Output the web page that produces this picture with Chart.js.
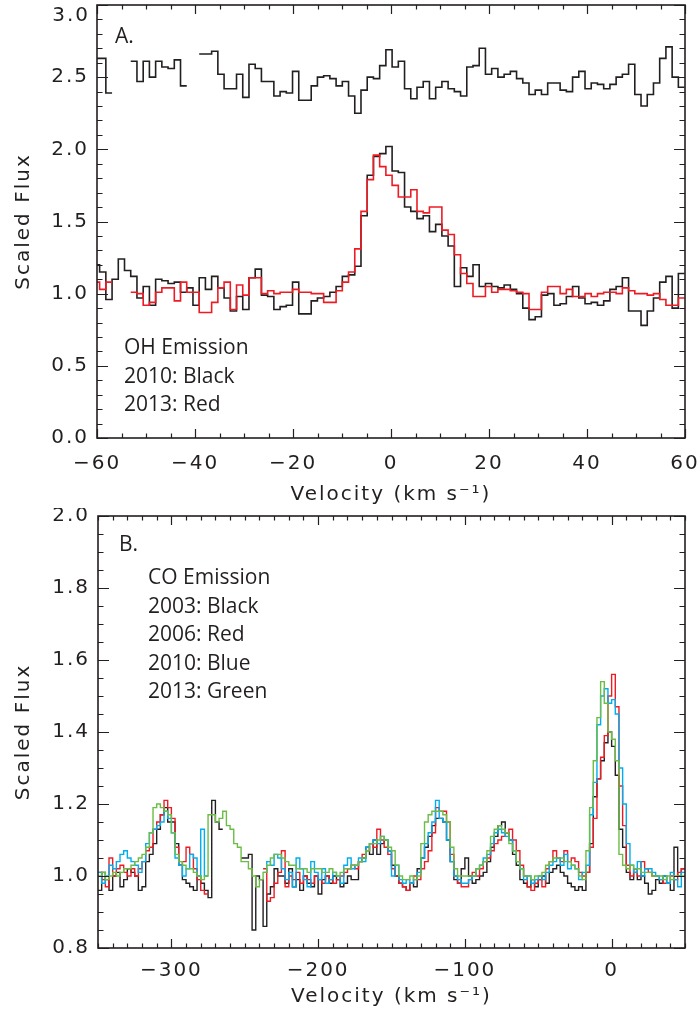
<!DOCTYPE html>
<html>
<head>
<meta charset="utf-8">
<script src="https://cdn.jsdelivr.net/npm/chart.js@4.4.1/dist/chart.umd.min.js"></script>
<style>
html,body{margin:0;padding:0;background:#ffffff;}
#wrap{position:relative;width:698px;height:1022px;overflow:hidden;background:#fff;}
.panel{position:absolute;left:0;width:698px;}
canvas{display:block;}
</style>
</head>
<body>
<div id="wrap">
  <div class="panel" style="top:0px;height:508px"><canvas id="cA" width="698" height="508"></canvas></div>
  <div class="panel" style="top:508px;height:514px"><canvas id="cB" width="698" height="514"></canvas></div>
</div>
<script>
// ================= Panel A : OH emission =================
const ohVelStart = -60.1;   // centre of first velocity bin (km/s)
const ohVelStep = 1.27;     // bin width (km/s)
// upper (offset) spectrum
const ohUpper = [
  2.63, 2.63, 2.39, null, null, null, 2.61, 2.47, 2.61, 2.50,
  2.61, 2.57, 2.56, 2.62, 2.44, null, null, 2.66, 2.66, 2.68,
  2.52, 2.42, 2.42, 2.52, 2.36, 2.59, 2.56, 2.47, 2.47, 2.37,
  2.40, 2.39, 2.54, 2.34, 2.34, 2.44, 2.50, 2.51, 2.49, 2.44,
  2.47, 2.37, 2.25, 2.41, 2.50, 2.49, 2.58, 2.69, 2.57, 2.61,
  2.42, 2.35, 2.43, 2.47, 2.35, 2.43, 2.47, 2.42, 2.40, 2.37,
  2.57, 2.58, 2.70, 2.52, 2.56, 2.50, 2.52, 2.54, 2.49, 2.46,
  2.38, 2.41, 2.38, 2.46, 2.46, 2.41, 2.40, 2.50, 2.54, 2.42,
  2.46, 2.45, 2.42, 2.45, 2.50, 2.52, 2.59, 2.38, 2.30, 2.38,
  2.46, 2.63, 2.71, 2.50, 2.43
];
// 2010 (black)
const oh2010 = [
  1.20, 1.15, 0.96, 1.10, 1.24, 1.16, 1.12, 0.97, 1.05, 0.92,
  1.10, 1.09, 1.07, 1.08, 1.01, 1.04, 0.92, 1.11, 1.03, 1.12,
  1.04, 0.97, 0.88, 0.98, 0.89, 1.11, 1.17, 0.99, 0.98, 0.89,
  0.91, 0.92, 1.08, 0.86, 0.86, 0.95, 0.97, 0.98, 1.01, 1.05,
  1.12, 1.13, 1.19, 1.54, 1.82, 1.95, 1.97, 2.02, 1.85, 1.84,
  1.60, 1.57, 1.52, 1.54, 1.43, 1.48, 1.40, 1.33, 1.05, 1.18,
  1.12, 1.20, 1.05, 1.07, 1.05, 1.04, 1.06, 1.03, 1.00, 0.90,
  0.82, 0.84, 0.99, 1.00, 0.92, 0.93, 0.98, 1.05, 0.97, 0.93,
  0.94, 0.92, 0.95, 1.03, 1.05, 1.11, 0.88, 0.88, 0.78, 0.88,
  0.97, 1.08, 1.12, 0.90, 1.14
];
// 2013 (red)
const oh2013 = [
  1.08, 1.03, 1.08, null, null, null, 1.01, 1.00, 0.92, 0.94,
  1.01, 1.04, 1.04, 0.95, 1.08, 1.01, 1.01, 0.87, 0.87, 0.94,
  1.04, 1.08, 0.89, 1.06, 0.99, 1.11, 1.11, 1.00, 1.02, 1.00,
  1.01, 1.01, 1.03, 1.01, 1.01, 1.00, 1.00, 0.94, 0.94, 1.02,
  1.08, 1.15, 1.31, 1.57, 1.79, 1.96, 1.88, 1.82, 1.75, 1.67,
  1.67, 1.72, 1.57, 1.56, 1.60, 1.60, 1.44, 1.41, 1.27, 1.14,
  1.07, 0.98, 0.98, 1.05, 1.01, 1.03, 1.03, 1.02, 1.01, 1.00,
  0.89, 0.89, 1.01, 1.05, 1.05, 1.00, 1.03, 0.98, 0.98, 1.00,
  0.98, 1.00, 1.01, 1.01, 1.00, 1.04, 1.02, 1.00, 1.00, 0.99,
  1.00, 0.96, 0.92, 0.92, 0.97
];
const ohXTicks = [-60, -40, -20, 0, 20, 40, 60];
const ohYTicks = [0, 0.5, 1.0, 1.5, 2.0, 2.5, 3.0];
const ohNotes = ['OH Emission', '2010: Black', '2013: Red'];

// ================= Panel B : CO emission =================
const coVelStart = -348.75;
const coVelStep = 2.5;
const co2003 = [
  0.96, 1.01, 0.99, 0.96, 1.00, 1.01, 0.97, 0.99, 1.02, 1.01,
  1.00, 0.96, 0.97, 1.04, 1.06, 1.09, 1.13, 1.17, 1.19, 1.15,
  1.15, 1.09, 1.03, 0.99, 0.98, 0.97, 0.96, 1.00, 0.98, 0.96,
  0.94, 1.21, 1.15, 1.13, null, null, null, null, null, 1.05,
  1.05, 1.06, 0.85, 1.00, 0.99, 0.86, 0.95, 0.97, 1.02, 1.00,
  1.00, 0.98, 1.02, 0.97, 0.99, 0.96, 1.00, 0.98, 0.97, 1.00,
  0.95, 0.99, 1.00, 0.98, 1.00, 0.99, 0.97, 0.98, 1.00, 0.99,
  0.99, 1.04, 1.05, 1.08, 1.06, 1.10, 1.06, 1.09, 1.10, 1.07,
  1.03, 1.00, 0.98, 0.97, 0.96, 0.98, 0.97, 1.02, 1.05, 1.08,
  1.11, 1.14, 1.16, 1.16, 1.15, 1.10, 1.04, 0.99, 0.98, 1.02,
  1.05, 1.00, 0.98, 0.99, 1.00, 1.01, 1.04, 1.08, 1.11, 1.14,
  1.15, 1.12, 1.10, 1.06, 1.03, 0.99, 0.98, 0.97, 0.99, 0.97,
  0.99, 1.00, 0.98, 1.01, 1.02, 1.03, 1.01, 1.00, 0.98, 0.97,
  0.96, 0.97, 0.96, 1.01, 1.09, 1.22, 1.27, 1.32, 1.37, 1.40,
  1.36, 1.28, 1.13, 1.08, 1.01, 0.99, 1.02, 0.99, 1.00, 0.98,
  0.95, 0.96, 0.99, 0.98, 1.00, 0.98, 0.96, 1.08, 1.00, 1.02
];
const co2006 = [
  1.01, 0.99, 0.97, 1.05, 1.00, 1.02, 1.03, 1.01, 1.00, 1.02,
  1.00, 1.02, 1.04, 1.07, 1.08, 1.13, 1.15, 1.17, 1.21, 1.19,
  1.16, 1.08, 1.03, 1.04, 1.08, 1.06, 1.02, 0.99, 0.96, 0.95,
  null, null, null, null, null, null, null, null, null, null,
  null, null, null, null, null, 1.02, 0.93, 0.94, 0.98, 1.01,
  1.07, 0.97, 1.00, 0.99, 1.01, 0.98, 1.00, 0.99, 0.98, 1.00,
  0.99, 0.98, 1.00, 0.99, 0.98, 0.99, 1.00, 1.01, 1.02, 1.03,
  1.02, 1.04, 1.06, 1.07, 1.09, 1.08, 1.13, 1.10, 1.08, 1.06,
  1.02, 1.00, 0.98, 0.97, 0.96, 0.98, 1.00, 0.99, 1.02, 1.04,
  1.07, 1.12, 1.19, 1.18, 1.18, 1.15, 1.06, 1.00, 0.98, 0.97,
  0.97, 0.99, 1.01, 1.00, 1.02, 1.04, 1.05, 1.07, 1.09, 1.10,
  1.11, 1.12, 1.13, 1.10, 1.07, 1.03, 1.00, 0.97, 0.96, 0.98,
  0.99, 0.97, 1.02, 1.04, 1.07, 1.05, 1.04, 1.07, 1.04, 1.05,
  1.04, 1.01, 1.00, 1.01, 1.08, 1.16, 1.27, 1.33, 1.39, 1.50,
  1.56, 1.47, 1.25, 1.14, 1.03, 1.00, 1.01, 1.00, 1.04, 1.02,
  1.01, 1.00, 1.00, 0.99, 0.98, 0.98, 1.00, 0.99, 1.01, 1.02
];
const co2010 = [
  1.01, 0.98, 1.00, 1.03, 1.02, 1.04, 1.06, 1.07, 1.05, 1.04,
  1.03, 1.01, 1.04, 1.09, 1.12, 1.13, 1.14, 1.15, 1.18, 1.16,
  1.12, 1.05, 1.03, 1.00, 1.02, 1.06, 1.05, 1.00, 1.13, 1.00,
  null, null, null, null, null, null, null, null, null, null,
  null, null, null, null, null, 1.01, 1.04, 1.03, 1.06, 1.05,
  1.02, 0.99, 1.01, 0.97, 1.05, 1.02, 0.99, 0.97, 1.04, 1.01,
  0.99, 1.02, 0.98, 0.99, 1.01, 1.00, 0.98, 1.03, 1.05, 1.02,
  1.03, 1.05, 1.04, 1.08, 1.09, 1.10, 1.09, 1.11, 1.10, 1.07,
  1.00, 1.03, 0.99, 0.98, 0.99, 0.98, 0.99, 1.01, 1.05, 1.09,
  1.12, 1.15, 1.21, 1.16, 1.15, 1.10, 1.04, 1.00, 0.99, 0.98,
  0.98, 0.99, 1.00, 1.02, 1.03, 1.05, 1.06, 1.09, 1.12, 1.13,
  1.12, 1.11, 1.10, 1.07, 1.04, 1.02, 0.99, 1.00, 0.98, 0.99,
  1.00, 0.99, 1.01, 1.03, 1.04, 1.05, 1.03, 1.06, 1.02, 1.03,
  1.02, 0.99, 1.01, 1.03, 1.17, 1.26, 1.42, 1.50, 1.52, 1.48,
  1.49, 1.45, 1.30, 1.20, 1.09, 1.03, 1.01, 1.04, 1.00, 1.02,
  1.02, 1.01, 1.00, 0.99, 1.00, 0.98, 1.01, 0.99, 0.97, 1.01
];
const co2013 = [
  1.00, 1.01, 0.99, 1.00, 1.01, 1.00, 1.01, 1.02, 1.02, 1.03,
  1.04, 1.05, 1.06, 1.08, 1.12, 1.19, 1.20, 1.19, 1.18, 1.17,
  1.12, 1.06, 1.04, 1.03, 1.02, 1.02, 1.01, 1.00, 0.99, 1.00,
  1.17, 1.17, 1.15, 1.16, 1.18, 1.14, 1.13, 1.09, 1.08, 1.04,
  1.04, 1.02, 1.00, 0.97, 0.99, 1.01, 1.03, 1.05, 1.06, 1.06,
  1.05, 1.04, 1.03, 1.03, 1.02, 1.02, 1.02, 1.01, 1.02, 1.02,
  1.02, 1.01, 1.01, 1.02, 1.01, 1.00, 1.01, 1.02, 1.02, 1.03,
  1.03, 1.04, 1.05, 1.07, 1.09, 1.09, 1.10, 1.11, 1.10, 1.08,
  1.07, 1.03, 1.00, 0.99, 0.99, 1.00, 0.99, 1.00, 1.09, 1.15,
  1.17, 1.18, 1.18, 1.18, 1.17, 1.15, 1.08, 1.02, 1.00, 1.00,
  1.00, 1.00, 1.00, 1.02, 1.03, 1.04, 1.07, 1.11, 1.13, 1.14,
  1.13, 1.12, 1.09, 1.07, 1.04, 1.02, 1.00, 1.00, 0.99, 1.00,
  1.00, 1.01, 1.03, 1.04, 1.05, 1.05, 1.05, 1.04, 1.04, 1.03,
  1.02, 1.00, 0.99, 1.07, 1.19, 1.32, 1.44, 1.54, 1.48, 1.40,
  1.38, 1.32, 1.06, 1.03, 1.02, 1.03, 1.02, 1.02, 1.01, 1.01,
  1.01, 1.00, 1.00, 1.00, 0.99, 1.00, 0.99, 1.00, 1.00, 1.00
];
const coXTicks = [-300, -200, -100, 0];
const coYTicks = [0.8, 1.0, 1.2, 1.4, 1.6, 1.8, 2.0];
const coNotes = ['CO Emission', '2003: Black', '2006: Red', '2010: Blue', '2013: Green'];

// ================= helpers =================
const INK = '#231f20';
const TICK_FONT = {family: "'DejaVu Sans', sans-serif", size: 20, weight: 'normal'};
const NOTE_FONT = "21px 'Open Sans', 'Noto Sans', sans-serif";

// histogram outline: each bin spans centre +/- step/2
function histPoints(start, step, vals) {
  const pts = [];
  vals.forEach((v, i) => {
    const c = start + step * i;
    if (v === null) { pts.push({x: c, y: null}); }
    else { pts.push({x: c - step / 2, y: v}); pts.push({x: c + step / 2, y: v}); }
  });
  return pts;
}
function range(a, b, s) { const out = []; const n = Math.round((b - a) / s); for (let i = 0; i <= n; i++) out.push(+(a + i * s).toFixed(4)); return out; }
const fmtSigned = v => (v < 0 ? '\u2212' + Math.abs(v) : String(v));

// frame + inward ticks on all four sides
const frameTicks = {
  id: 'frameTicks',
  beforeDraw(chart) { chart.ctx.letterSpacing = '2px'; },
  afterDatasetsDraw(chart, args, o) {
    const {ctx, chartArea: a, scales: {x, y}} = chart;
    ctx.save();
    ctx.strokeStyle = INK;
    ctx.lineWidth = 1.2;
    ctx.beginPath();
    const xt = (vals, len) => vals.forEach(v => {
      const p = Math.round(x.getPixelForValue(v)) + 0.5;
      ctx.moveTo(p, a.bottom); ctx.lineTo(p, a.bottom - len);
      ctx.moveTo(p, a.top); ctx.lineTo(p, a.top + len);
    });
    const yt = (vals, len) => vals.forEach(v => {
      const p = Math.round(y.getPixelForValue(v)) + 0.5;
      ctx.moveTo(a.left, p); ctx.lineTo(a.left + len, p);
      ctx.moveTo(a.right, p); ctx.lineTo(a.right - len, p);
    });
    xt(o.xMinor, 4.5); xt(o.xMajor, 9);
    yt(o.yMinor, 5.5); yt(o.yMajor, 11);
    ctx.stroke();
    ctx.lineWidth = 1.6;
    ctx.strokeRect(a.left, a.top, a.right - a.left, a.bottom - a.top);
    ctx.restore();
  }
};

// annotation text
const notes = {
  id: 'notes',
  afterDraw(chart, args, o) {
    const ctx = chart.ctx;
    ctx.save();
    ctx.letterSpacing = '0px';
    ctx.fillStyle = INK;
    ctx.font = NOTE_FONT;
    ctx.textBaseline = 'alphabetic';
    ctx.textAlign = 'left';
    (o.items || []).forEach(it => ctx.fillText(it.text, it.x, it.y));
    if (o.extraTick) {
      ctx.letterSpacing = '2px';
      ctx.font = "20px 'DejaVu Sans', sans-serif";
      ctx.textAlign = 'right';
      ctx.textBaseline = 'middle';
      ctx.fillText(o.extraTick.text, o.extraTick.x, o.extraTick.y);
    }
    ctx.restore();
  }
};

function zeroPad(ax) { ax.paddingLeft = 0; ax.paddingRight = 0; ax.paddingTop = 0; ax.paddingBottom = 0; }

function makePanel(id, cfg) {
  return new Chart(document.getElementById(id), {
    type: 'line',
    data: {datasets: cfg.datasets},
    options: {
      responsive: false, animation: false, devicePixelRatio: 1,
      layout: {padding: cfg.padding},
      elements: {point: {radius: 0}, line: {tension: 0}},
      plugins: {
        legend: {display: false}, tooltip: {enabled: false},
        frameTicks: cfg.frame, notes: cfg.notes
      },
      scales: {
        x: {
          type: 'linear', min: cfg.xMin, max: cfg.xMax,
          grid: {display: false, drawTicks: false}, border: {display: false},
          afterBuildTicks: ax => { ax.ticks = cfg.xTicks.map(v => ({value: v})); },
          afterFit: ax => { ax.height = cfg.xAxisHeight; zeroPad(ax); },
          ticks: {callback: v => fmtSigned(v), font: TICK_FONT, color: INK, padding: cfg.xTickPad, maxRotation: 0, autoSkip: false},
          title: {display: true, text: 'Velocity (km s\u207B\u00B9)', font: TICK_FONT, color: INK, padding: {top: 0, bottom: cfg.xTitlePad}}
        },
        y: {
          type: 'linear', min: cfg.yMin, max: cfg.yMax,
          grid: {display: false, drawTicks: false}, border: {display: false},
          afterBuildTicks: ax => { ax.ticks = cfg.yTicks.map(v => ({value: v})); },
          afterFit: ax => { ax.width = cfg.yAxisWidth; zeroPad(ax); },
          ticks: {callback: v => (cfg.hideTop && Math.abs(v - cfg.yMax) < 1e-6) ? '' : v.toFixed(1), font: TICK_FONT, color: INK, padding: 8, autoSkip: false},
          title: {display: true, text: 'Scaled Flux', font: TICK_FONT, color: INK, padding: {top: 12, bottom: 0}}
        }
      }
    },
    plugins: [frameTicks, notes]
  });
}

const ds = (label, start, step, vals, color, w) => ({
  label, data: histPoints(start, step, vals), borderColor: color, borderWidth: w,
  pointRadius: 0, fill: false, spanGaps: false
});

makePanel('cA', {
  datasets: [
    ds('2013', ohVelStart, ohVelStep, oh2013, '#ed1c24', 1.6),
    ds('2010', ohVelStart, ohVelStep, oh2010, INK, 1.6),
    ds('2010 offset', ohVelStart, ohVelStep, ohUpper, INK, 1.6)
  ],
  padding: {top: 5, right: 13, bottom: 0, left: 0},
  xMin: -60, xMax: 60, yMin: 0, yMax: 3,
  xTicks: ohXTicks, yTicks: ohYTicks,
  xAxisHeight: 70, yAxisWidth: 97, xTickPad: 14, xTitlePad: 1, hideTop: true,
  frame: {xMajor: ohXTicks, xMinor: range(-60, 60, 5), yMajor: ohYTicks, yMinor: range(0, 3, 0.1)},
  notes: {
    items: [{text: 'A.', x: 115, y: 43}].concat(ohNotes.map((t, i) => ({text: t, x: 124, y: 354 + i * 28.5}))),
    extraTick: {text: '3.0', x: 90, y: 16}
  }
});

makePanel('cB', {
  datasets: [
    ds('2013', coVelStart, coVelStep, co2013, '#6cbd45', 1.4),
    ds('2010', coVelStart, coVelStep, co2010, '#00aeef', 1.4),
    ds('2006', coVelStart, coVelStep, co2006, '#ed1c24', 1.4),
    ds('2003', coVelStart, coVelStep, co2003, INK, 1.4)
  ],
  padding: {top: 8, right: 13, bottom: 0, left: 0},
  xMin: -350, xMax: 50, yMin: 0.8, yMax: 2.0,
  xTicks: coXTicks, yTicks: coYTicks,
  xAxisHeight: 74, yAxisWidth: 98, xTickPad: 11, xTitlePad: 13, hideTop: false,
  frame: {xMajor: coXTicks, xMinor: range(-350, 50, 10), yMajor: coYTicks, yMinor: range(0.8, 2.0, 0.05)},
  notes: {
    items: [{text: 'B.', x: 119, y: 43}].concat(coNotes.map((t, i) => ({text: t, x: 148, y: 76 + i * 28.6})))
  }
});
</script>
</body>
</html>
